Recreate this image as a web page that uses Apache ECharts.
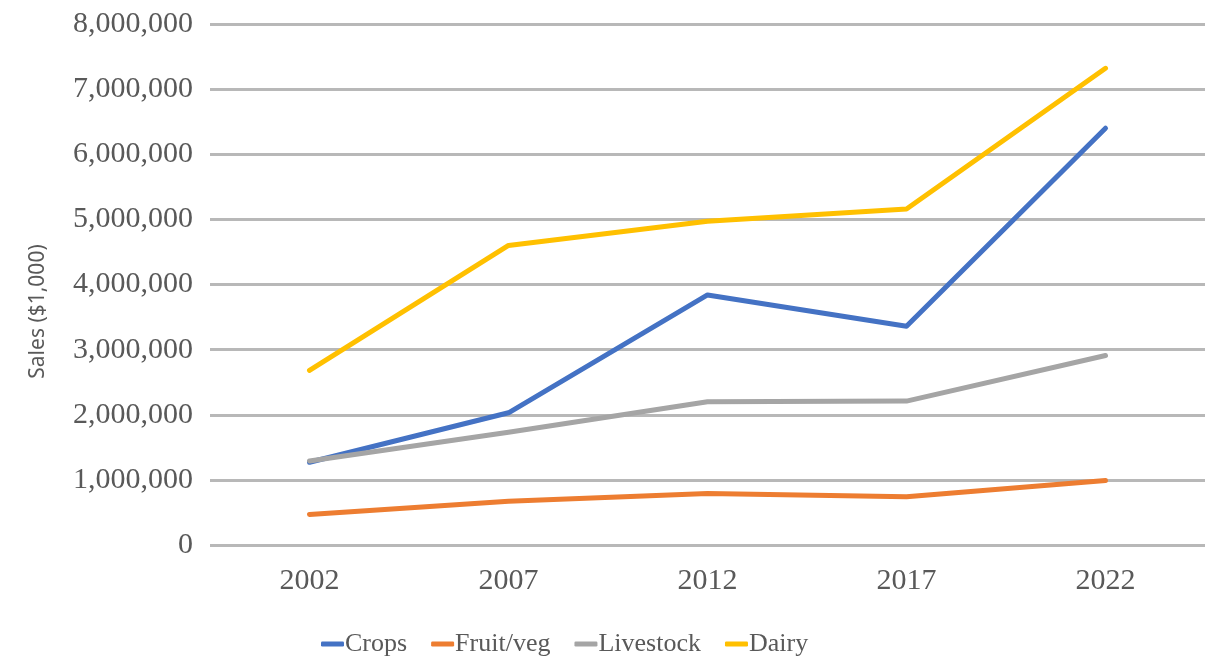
<!DOCTYPE html>
<html>
<head>
<meta charset="utf-8">
<script src="https://cdn.jsdelivr.net/npm/echarts@6/dist/echarts.min.js"></script>
<style>
  html, body { margin: 0; padding: 0; background: #fff; }
  #chart { width: 1217px; height: 656px; }
</style>
</head>
<body>
<div id="chart"></div>
<script>
const years = ["2002", "2007", "2012", "2017", "2022"];
const crops = [1270000, 2030000, 3840000, 3360000, 6400000];
const fruitVeg = [470000, 670000, 790000, 740000, 990000];
const livestock = [1290000, 1730000, 2200000, 2210000, 2910000];
const dairy = [2680000, 4600000, 4970000, 5160000, 7320000];

const font = "'Liberation Serif', 'Times New Roman', serif";
const textColor = "#595959";

function line(name, data, color) {
  return {
    name: name,
    type: "line",
    data: data,
    symbol: "none",
    lineStyle: { color: color, width: 5, cap: "round", join: "round" },
    itemStyle: { color: color },
  };
}

let myChart = echarts.init(document.getElementById("chart"));
myChart.setOption({
  animation: false,
  textStyle: { fontFamily: font },
  grid: { left: 210, right: 12, top: 24, bottom: 111, containLabel: false },
  legend: {
    top: 626,
    left: 316,
    itemWidth: 23,
    itemHeight: 5,
    itemGap: 24,
    icon: "roundRect",
    textStyle: { fontFamily: font, fontSize: 26, color: textColor, padding: [0, 0, 0, -4] },
    data: ["Crops", "Fruit/veg", "Livestock", "Dairy"],
  },
  xAxis: {
    type: "category",
    data: years,
    boundaryGap: true,
    axisLine: { show: false },
    axisTick: { show: false },
    axisLabel: { fontFamily: font, fontSize: 30, color: textColor, margin: 21 },
  },
  yAxis: {
    type: "value",
    min: 0,
    max: 8000000,
    interval: 1000000,
    name: "Sales ($1,000)",
    nameLocation: "middle",
    nameGap: 161,
    nameTextStyle: {
      fontFamily: "'Noto Sans', 'Liberation Sans', sans-serif",
      fontSize: 21,
      color: textColor,
      padding: [0, 54, 0, 0],
    },
    axisLine: { show: false },
    axisTick: { show: false },
    axisLabel: {
      fontFamily: font,
      fontSize: 30,
      color: textColor,
      margin: 17,
      formatter: (v) => v.toLocaleString("en-US"),
    },
    splitLine: { lineStyle: { color: "#b8b8b8", width: 3 } },
  },
  series: [
    line("Crops", crops, "#4472C4"),
    line("Fruit/veg", fruitVeg, "#ED7D31"),
    line("Livestock", livestock, "#A5A5A5"),
    line("Dairy", dairy, "#FFC000"),
  ],
});
</script>
</body>
</html>
